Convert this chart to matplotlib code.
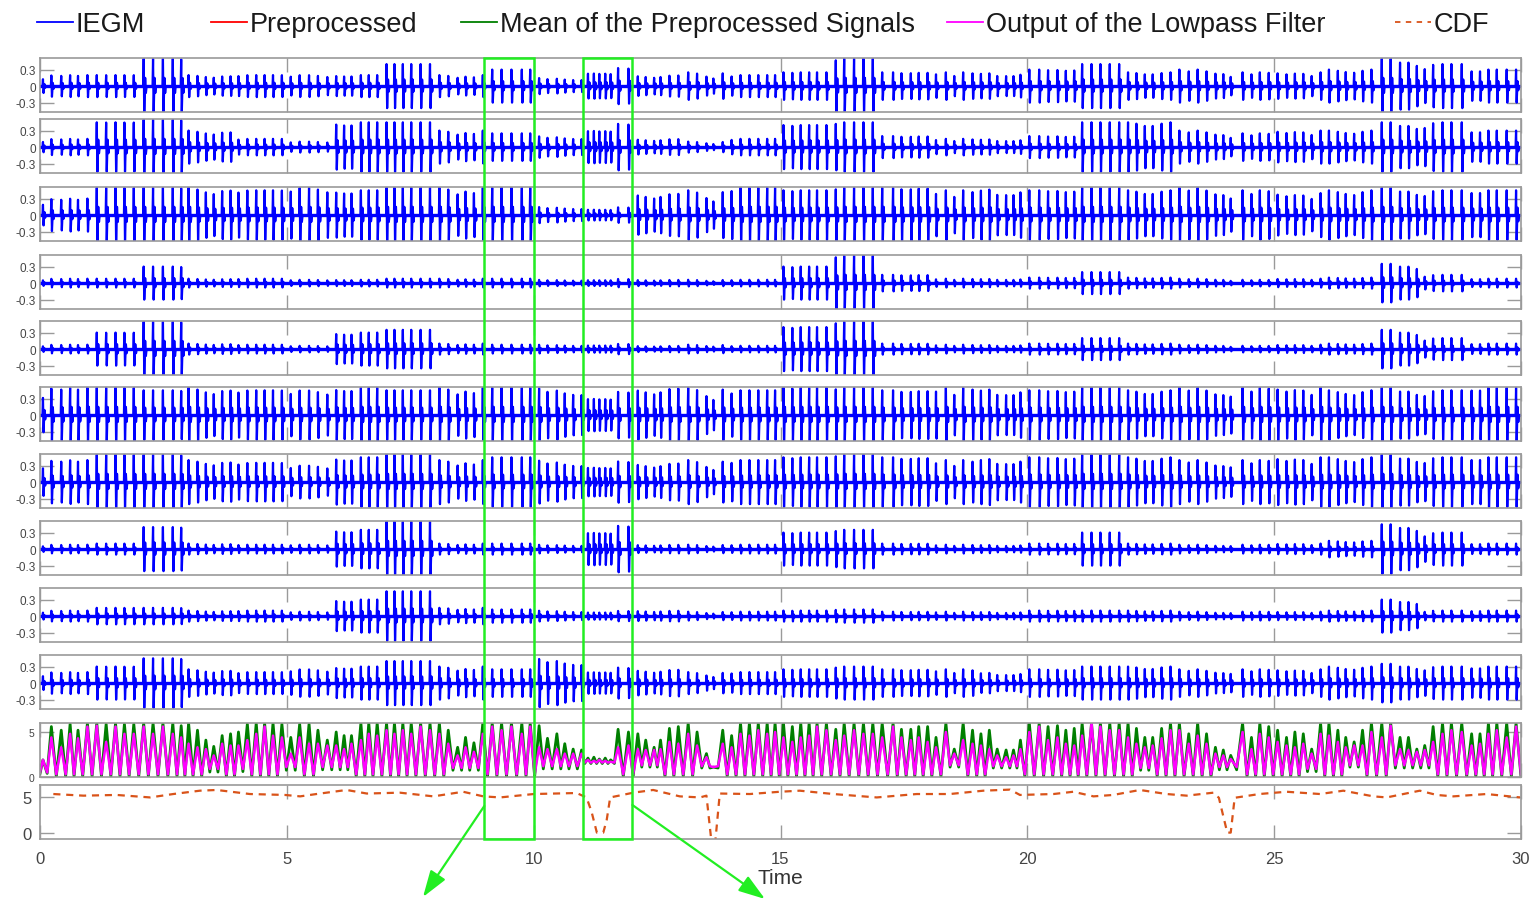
import numpy as np
import matplotlib
matplotlib.use("Agg")
import matplotlib.pyplot as plt
from matplotlib.lines import Line2D
from matplotlib.patches import Rectangle, FancyArrowPatch
from matplotlib import transforms

plt.rcParams['font.family'] = ['Liberation Sans', 'DejaVu Sans']

# beat times (s) with peak of the mean signal and of the lowpass output
beat_t = [0.06, 0.23, 0.43, 0.61, 0.77, 0.96, 1.15, 1.34, 1.53, 1.71, 1.90, 2.10, 2.29, 2.49, 2.69,
          2.86, 3.01, 3.19, 3.36, 3.52, 3.69, 3.86, 4.02, 4.20, 4.38, 4.55, 4.72, 4.90, 5.08, 5.26,
          5.45, 5.63, 5.82, 6.00, 6.16, 6.31, 6.50, 6.66, 6.83, 7.02, 7.18, 7.35, 7.52, 7.71, 7.90,
          8.09, 8.27, 8.46, 8.62, 8.79, 8.97, 9.16, 9.35, 9.55, 9.76, 9.93, 10.11, 10.28, 10.47, 10.63,
          10.80, 10.97, 11.10, 11.22, 11.33, 11.45, 11.56, 11.71, 11.92, 12.11, 12.27, 12.44, 12.57, 12.75, 12.93,
          13.13, 13.31, 13.50, 13.64, 13.83, 14.01, 14.19, 14.37, 14.55, 14.73, 14.89, 15.06, 15.24, 15.41, 15.58,
          15.74, 15.93, 16.12, 16.29, 16.49, 16.68, 16.87, 17.06, 17.28, 17.45, 17.64, 17.80, 17.98, 18.15, 18.35,
          18.52, 18.70, 18.89, 19.06, 19.23, 19.39, 19.57, 19.72, 19.86, 20.04, 20.24, 20.42, 20.61, 20.78, 20.95,
          21.11, 21.30, 21.48, 21.67, 21.86, 22.04, 22.21, 22.38, 22.54, 22.72, 22.90, 23.08, 23.27, 23.45, 23.63,
          23.81, 23.97, 24.12, 24.36, 24.54, 24.71, 24.89, 25.07, 25.25, 25.42, 25.59, 25.76, 25.94, 26.11, 26.29,
          26.45, 26.62, 26.79, 26.97, 27.18, 27.36, 27.55, 27.72, 27.89, 28.05, 28.22, 28.41, 28.59, 28.80, 29.00,
          29.17, 29.34, 29.51, 29.71, 29.90]
mean_pk = [1.9, 5.6, 5.2, 5.9, 5.2, 6.0, 6.0, 5.9, 6.0, 5.9, 5.9, 6.0, 6.0, 6.0, 6.0,
           5.7, 6.0, 5.2, 4.1, 3.4, 4.6, 4.8, 5.0, 5.9, 6.0, 6.0, 6.0, 5.9, 4.4, 5.9,
           5.9, 5.2, 4.1, 5.0, 4.6, 4.6, 6.0, 6.0, 6.0, 6.0, 6.0, 6.0, 6.0, 6.0, 6.0,
           6.0, 5.2, 3.3, 4.4, 3.8, 6.0, 6.0, 6.0, 6.0, 6.0, 6.0, 5.7, 4.3, 4.8, 3.7,
           3.1, 3.0, 2.1, 2.2, 2.0, 2.1, 1.9, 5.3, 5.0, 4.8, 4.1, 3.3, 4.1, 5.4, 5.6,
           6.0, 5.0, 2.6, 1.1, 5.2, 4.6, 6.0, 6.0, 6.0, 6.0, 6.0, 6.0, 5.6, 6.0, 6.0,
           6.0, 6.0, 5.3, 6.0, 6.0, 6.0, 6.0, 6.0, 6.0, 5.3, 5.3, 5.6, 5.6, 4.4, 6.0,
           3.1, 6.0, 5.2, 4.8, 5.2, 3.1, 3.0, 3.0, 4.1, 6.0, 6.0, 5.6, 5.7, 5.2, 5.4,
           6.0, 6.0, 6.0, 6.0, 6.0, 6.0, 5.4, 4.4, 4.4, 5.4, 6.0, 6.0, 4.8, 6.0, 4.8,
           3.3, 3.0, 2.4, 6.0, 4.4, 6.0, 5.6, 5.2, 4.4, 5.0, 4.8, 3.1, 6.0, 6.0, 5.2,
           4.4, 3.9, 5.2, 6.0, 6.0, 6.0, 4.4, 4.4, 3.1, 3.5, 5.6, 6.0, 6.0, 6.0, 4.8,
           4.8, 6.0, 6.0, 6.0, 6.0]
lp_pk = [1.9, 4.4, 3.3, 4.8, 4.3, 5.6, 5.7, 3.9, 5.6, 4.8, 4.8, 5.6, 4.8, 5.6, 4.8,
         4.4, 3.7, 3.3, 3.1, 2.4, 3.7, 3.5, 3.5, 4.1, 4.8, 5.6, 4.6, 4.4, 2.6, 4.4,
         3.7, 3.7, 3.5, 3.5, 3.1, 3.7, 4.1, 4.8, 4.6, 5.2, 4.8, 5.2, 4.8, 5.6, 5.2,
         4.8, 3.7, 2.4, 3.3, 2.8, 4.8, 5.6, 5.2, 5.6, 4.8, 5.6, 3.3, 3.1, 3.1, 2.6,
         2.6, 2.6, 1.9, 1.8, 1.9, 1.8, 1.7, 3.3, 3.5, 3.1, 3.0, 3.0, 3.1, 3.9, 3.7,
         4.8, 3.5, 2.2, 1.1, 3.7, 3.3, 4.8, 4.6, 5.2, 4.8, 5.0, 4.4, 3.9, 4.4, 4.6,
         5.6, 5.2, 4.1, 4.6, 5.2, 4.8, 4.8, 4.4, 5.6, 4.4, 4.1, 4.4, 3.9, 3.3, 5.0,
         2.6, 4.1, 3.7, 3.5, 3.1, 2.4, 2.2, 2.4, 3.1, 5.0, 5.6, 4.1, 4.4, 3.7, 3.5,
         4.6, 6.0, 5.6, 5.2, 5.2, 4.4, 3.7, 3.3, 3.5, 4.3, 5.2, 5.2, 3.7, 4.6, 3.7,
         2.6, 2.4, 2.0, 5.0, 3.1, 4.8, 4.4, 3.9, 3.5, 3.3, 3.7, 2.6, 4.8, 4.6, 3.9,
         3.3, 3.5, 3.5, 5.0, 4.4, 5.7, 3.1, 3.0, 2.8, 3.0, 3.9, 4.8, 5.2, 5.0, 3.5,
         3.7, 4.8, 5.2, 4.4, 5.6]

# stretches where the troughs between beats stay raised
lo_t0 = [0.0, 3.3, 3.95, 4.95, 5.65, 8.35, 10.05, 10.97, 12.05, 13.35, 18.4, 19.3, 22.15, 23.75, 25.65, 26.4, 27.45]
lo_t1 = [0.2, 3.75, 4.25, 5.35, 6.4, 8.9, 10.97, 11.65, 12.65, 13.75, 18.62, 19.85, 22.6, 24.25, 25.85, 26.85, 28.15]
lo_mean = [0.4, 0.55, 0.6, 0.75, 0.8, 0.75, 0.9, 1.5, 1.1, 1.0, 1.1, 1.0, 0.75, 0.8, 0.6, 1.1, 1.0]
lo_lp = [0.5, 0.9, 0.9, 1.1, 1.1, 1.0, 1.2, 1.6, 1.3, 1.2, 1.3, 1.2, 1.0, 1.1, 0.9, 1.3, 1.3]
base_mean, base_lp = 0.05, 0.3

# CDF trace
cdf_t = [0.27, 0.88, 1.55, 2.23, 2.7, 3.24, 3.58, 4.25, 4.96, 5.27, 5.6, 6.21, 6.62, 7.29, 7.97,
         8.57, 8.98, 9.32, 10.0, 10.87, 11.07, 11.17, 11.28, 11.41, 11.48, 11.55, 12.02, 12.42, 12.96, 13.37,
         13.5, 13.6, 13.68, 13.77, 14.38, 14.99, 15.39, 16.07, 16.95, 17.76, 18.43, 19.11, 19.65, 19.85, 20.53,
         20.93, 21.34, 21.74, 22.28, 22.82, 23.23, 23.77, 23.88, 23.98, 24.05, 24.12, 24.2, 24.7, 25.25, 25.93,
         26.4, 27.01, 27.28, 27.95, 28.29, 28.63, 29.3, 29.98]
cdf_v = [5.43, 5.2, 5.3, 4.95, 5.43, 5.9, 6.0, 5.43, 5.3, 5.1, 5.43, 6.0, 5.5, 5.62, 5.1,
         5.75, 5.1, 4.95, 5.43, 5.57, 4.95, 3.0, 0.0, 0.0, 1.8, 4.95, 5.62, 6.0, 5.1, 4.95,
         5.2, -1.2, -1.2, 5.5, 5.43, 5.75, 5.9, 5.43, 4.95, 5.43, 5.43, 5.9, 6.05, 5.3, 5.43,
         5.75, 5.1, 5.3, 6.0, 5.43, 5.2, 5.62, 4.9, 2.0, 0.0, 0.0, 4.9, 5.43, 5.75, 5.43,
         5.9, 5.1, 4.95, 5.9, 5.3, 5.1, 5.43, 4.95]

# spike amplitude of each IEGM channel, one value per second
iegm_amp = [
    [0.20, 0.20, 0.50, 0.20, 0.20, 0.20, 0.20, 0.40, 0.20, 0.30, 0.15, 0.35, 0.20, 0.25, 0.20,
     0.25, 0.50, 0.25, 0.25, 0.25, 0.30, 0.40, 0.25, 0.30, 0.25, 0.25, 0.30, 0.50, 0.40, 0.30],
    [0.15, 0.45, 0.50, 0.30, 0.15, 0.10, 0.45, 0.45, 0.30, 0.25, 0.20, 0.45, 0.15, 0.10, 0.15,
     0.40, 0.45, 0.20, 0.15, 0.15, 0.20, 0.45, 0.45, 0.30, 0.25, 0.30, 0.30, 0.45, 0.45, 0.30],
    [0.30, 0.50, 0.50, 0.50, 0.45, 0.50, 0.45, 0.50, 0.50, 0.50, 0.15, 0.15, 0.40, 0.45, 0.50,
     0.45, 0.50, 0.50, 0.45, 0.50, 0.45, 0.50, 0.45, 0.50, 0.45, 0.40, 0.45, 0.50, 0.45, 0.45],
    [0.08, 0.08, 0.30, 0.08, 0.08, 0.06, 0.06, 0.08, 0.08, 0.08, 0.06, 0.08, 0.06, 0.06, 0.06,
     0.30, 0.50, 0.15, 0.08, 0.08, 0.10, 0.20, 0.10, 0.08, 0.06, 0.08, 0.10, 0.35, 0.15, 0.08],
    [0.08, 0.30, 0.50, 0.10, 0.08, 0.06, 0.30, 0.35, 0.10, 0.08, 0.08, 0.10, 0.06, 0.08, 0.06,
     0.40, 0.50, 0.10, 0.08, 0.08, 0.10, 0.20, 0.10, 0.08, 0.06, 0.08, 0.10, 0.35, 0.20, 0.10],
    [0.50, 0.50, 0.45, 0.50, 0.45, 0.45, 0.50, 0.45, 0.50, 0.50, 0.50, 0.45, 0.50, 0.50, 0.45,
     0.50, 0.50, 0.45, 0.50, 0.50, 0.45, 0.50, 0.45, 0.50, 0.50, 0.50, 0.45, 0.50, 0.45, 0.50],
    [0.40, 0.50, 0.50, 0.40, 0.35, 0.30, 0.45, 0.50, 0.40, 0.45, 0.40, 0.40, 0.35, 0.40, 0.40,
     0.45, 0.50, 0.45, 0.40, 0.45, 0.45, 0.50, 0.45, 0.40, 0.40, 0.45, 0.45, 0.50, 0.45, 0.45],
    [0.08, 0.10, 0.40, 0.10, 0.08, 0.08, 0.35, 0.50, 0.10, 0.10, 0.08, 0.45, 0.08, 0.08, 0.08,
     0.30, 0.35, 0.10, 0.08, 0.08, 0.10, 0.30, 0.10, 0.08, 0.08, 0.10, 0.15, 0.45, 0.30, 0.10],
    [0.10, 0.15, 0.15, 0.10, 0.10, 0.08, 0.30, 0.45, 0.15, 0.12, 0.10, 0.10, 0.10, 0.08, 0.08,
     0.10, 0.12, 0.08, 0.08, 0.08, 0.10, 0.10, 0.10, 0.08, 0.08, 0.08, 0.10, 0.30, 0.10, 0.10],
    [0.20, 0.30, 0.45, 0.25, 0.20, 0.25, 0.30, 0.40, 0.30, 0.25, 0.45, 0.30, 0.25, 0.20, 0.20,
     0.25, 0.30, 0.25, 0.25, 0.20, 0.25, 0.30, 0.30, 0.25, 0.25, 0.25, 0.30, 0.35, 0.30, 0.30],
]
zoom_windows = [(9, 10), (11, 12)]

W, H = 1536, 903
fig = plt.figure(figsize=(W / 100, H / 100), dpi=100)

tops = [59, 120, 188, 256, 322, 388, 455, 522, 589, 656, 724, 786]
frame_c = "#9a9a9a"
lab_c = "#444444"
axes = []
for top in tops:
    ax = fig.add_axes([40 / W, 1 - (top + 54) / H, 1481 / W, 54 / H])
    ax.set_xlim(0, 30)
    ax.set_xticks(np.arange(0, 31, 5))
    ax.tick_params(direction="in", length=10, width=1, color=frame_c, labelcolor=lab_c,
                   top=True, right=True, labelbottom=False)
    for s in ax.spines.values():
        s.set_color(frame_c)
        s.set_linewidth(1.2)
    axes.append(ax)

bt = np.array(beat_t)


def spikes(t, amp, pk):
    # one biphasic deflection plus a small after-wave per beat
    xs, ys = [0.0], [0.0]
    for ti, p in zip(t, pk):
        a = amp[min(int(ti), 29)] * (0.45 + 0.55 * p / 6.0)
        xs += [ti - 0.01, ti, ti + 0.012, ti + 0.03, ti + 0.045, ti + 0.06]
        ys += [0.0, a, -a, 0.3 * a, -0.25 * a, 0.0]
    xs.append(30.0)
    ys.append(0.0)
    return xs, ys


for k in range(10):
    ax = axes[k]
    x, y = spikes(bt, iegm_amp[k], mean_pk)
    ax.plot(x, y, color="#0000ff", lw=1.6)
    ax.axhline(0, color="#0000ff", lw=2.4)
    ax.set_ylim(-0.47, 0.51)
    ax.set_yticks([-0.3, 0, 0.3])
    ax.set_yticklabels(["-0.3", "0", "0.3"], fontsize=8.5)
    ax.tick_params(axis="y", pad=3)


def trough(tm, base, lo):
    for a, b, v in zip(lo_t0, lo_t1, lo):
        if a <= tm <= b:
            return v
    return base


mids = (bt[:-1] + bt[1:]) / 2
xs = [0.0]
ym = [trough(0.0, base_mean, lo_mean)]
yl = [trough(0.0, base_lp, lo_lp)]
for i in range(len(bt)):
    xs.append(bt[i])
    ym.append(mean_pk[i])
    yl.append(lp_pk[i])
    if i < len(mids):
        xs.append(mids[i])
        ym.append(trough(mids[i], base_mean, lo_mean))
        yl.append(trough(mids[i], base_lp, lo_lp))
xs.append(30.0)
ym.append(base_mean)
yl.append(base_lp)

axm = axes[10]
axm.plot(xs, ym, color="#007f00", lw=2.0)
axm.plot(xs, yl, color="#ff00ff", lw=1.8)
axm.set_ylim(0, 6)
axm.set_yticks([0, 5])
axm.set_yticklabels(["0", "5"], fontsize=7.5)
axm.tick_params(axis="y", pad=4)

axc = axes[11]
axc.plot(cdf_t, cdf_v, color="#D95319", lw=1.6, dashes=(3.2, 2.6))
axc.set_ylim(-0.9, 6.7)
axc.set_yticks([0, 5])
axc.set_yticklabels(["0", "5"], fontsize=12)
axc.tick_params(axis="y", pad=6)
axc.tick_params(axis="x", labelbottom=True, labelsize=12, pad=9)
axc.set_xlabel("Time", fontsize=15, color="#333333", labelpad=1)

# legend, one entry at a time
handles = [
    (Line2D([], [], color="#0000ff", lw=1.3), "IEGM", 37),
    (Line2D([], [], color="#ff0000", lw=1.3), "Preprocessed", 211),
    (Line2D([], [], color="#007f00", lw=1.3), "Mean of the Preprocessed Signals", 461),
    (Line2D([], [], color="#ff00ff", lw=1.3), "Output of the Lowpass Filter", 947),
    (Line2D([], [], color="#D95319", lw=1.3, dashes=(3, 3)), "CDF", 1395),
]
for h, lab, x0 in handles:
    fig.legend([h], [lab], loc="center left", bbox_to_anchor=(x0 / W, 1 - 25 / H),
               bbox_transform=fig.transFigure, frameon=False, fontsize=19.5,
               handlelength=1.33, handletextpad=0.1, borderpad=0, borderaxespad=0,
               labelcolor="#1a1a1a")

# green boxes across all panels and arrows below
lime = "#22ee22"
tr = transforms.blended_transform_factory(axc.transData, fig.transFigure)
y_lo, y_hi = 1 - 840 / H, 1 - 59 / H
for a, b in zoom_windows:
    fig.add_artist(Rectangle((a, y_lo), b - a, y_hi - y_lo, transform=tr, fill=False,
                             edgecolor=lime, lw=1.8, clip_on=False, zorder=10))

arrows = [((zoom_windows[0][0], 1 - 807 / H), (423, 898)),
          ((zoom_windows[1][1], 1 - 806 / H), (765, 900))]
for (x0, y0), (px, py) in arrows:
    start = fig.transFigure.inverted().transform(tr.transform((x0, y0)))
    fig.add_artist(FancyArrowPatch(start, (px / W, 1 - py / H), transform=fig.transFigure,
                                   arrowstyle="-|>,head_length=0.9,head_width=0.3",
                                   mutation_scale=18, color=lime, lw=1.6, clip_on=False,
                                   shrinkA=0, shrinkB=0, zorder=10))

fig.savefig("out.png", dpi=100)
